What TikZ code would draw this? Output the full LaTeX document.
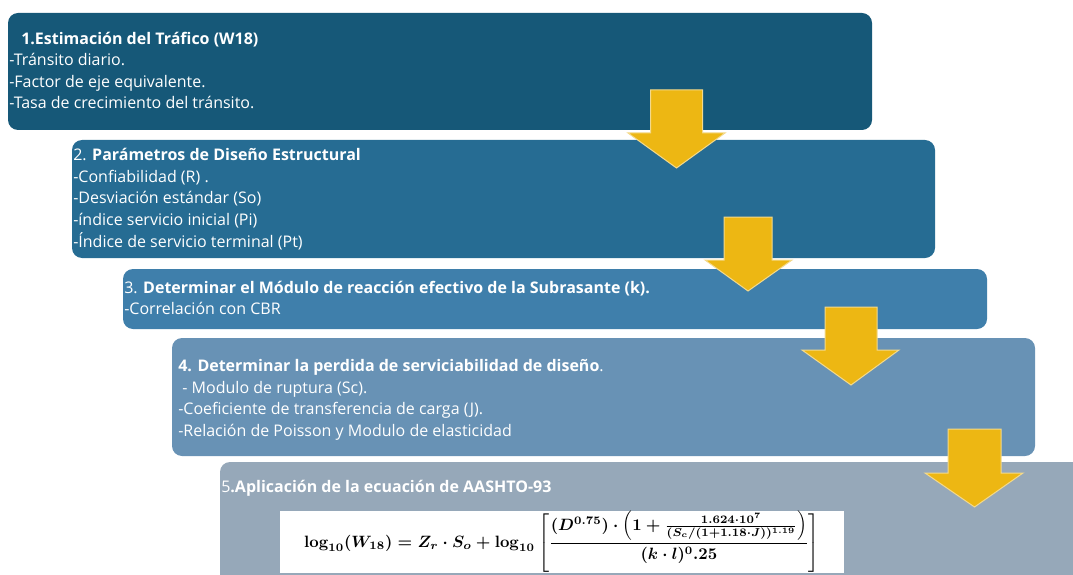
\documentclass[tikz,border=0pt]{standalone}
\usepackage{amsmath}
\usepackage{amssymb}
\usepackage[no-math]{fontspec}
\setmainfont{Open Sans}
\usepackage{tikz}

\definecolor{caja1}{HTML}{165878}
\definecolor{caja2}{HTML}{266C93}
\definecolor{caja3}{HTML}{3F7FAB}
\definecolor{caja4}{HTML}{6892B5}
\definecolor{caja5}{HTML}{96A8B9}
\definecolor{amarillo}{HTML}{EDB713}
\definecolor{bordeamarillo}{HTML}{F3D98C}

\begin{document}
\begin{tikzpicture}[x=0.75pt,y=0.75pt,yscale=-1,xscale=1,
  caja/.style={rounded corners=7.5pt},
  flecha/.style={fill=amarillo, draw=bordeamarillo, line width=0.75},
  texto/.style={anchor=west, inner sep=0.75pt, align=left, text=white, font=\fontsize{12}{16.2}\selectfont}]
\useasboundingbox (0,0) rectangle (1073,574);
\clip (0,0) rectangle (1073,574);

%Shape: Rounded Rect [paso 1]
\fill [caja1, caja] (8,13) rectangle (872,130) ;
%Shape: Rounded Rect [paso 2]
\fill [caja2, caja] (72,140) rectangle (935,258) ;
%Shape: Rounded Rect [paso 3]
\fill [caja3, caja] (123,269) rectangle (987,329) ;
%Shape: Rounded Rect [paso 4]
\fill [caja4, caja] (172,338) rectangle (1035,456) ;
%Shape: Rounded Rect [paso 5]
\fill [caja5, caja] (220,462) rectangle (1090,590) ;

%Shape: Rectangle [ecuacion]
\draw (562,542) node [fill=white, minimum width=423pt, minimum height=45pt, inner sep=0pt] (ec) {\scalebox{1.23}{\boldmath$\displaystyle \log_{10}(W_{18}) = Z_r \cdot S_o + \log_{10}\left[\frac{(D^{0.75})\cdot\left(1+\frac{1.624\cdot 10^7}{(S_c/(1+1.18\cdot J))^{1.19}}\right)}{(k\cdot l)^0.25}\right]$}};

%Shape: Down Arrow [1-2]
\draw [flecha] (650.5,90) -- (702.5,90) -- (702.5,133) -- (725,133) -- (676.5,168) -- (628,133) -- (650.5,133) -- cycle ;
%Shape: Down Arrow [2-3]
\draw [flecha] (724,217) -- (772,217) -- (772,260) -- (792,260) -- (748,291) -- (705,260) -- (724,260) -- cycle ;
%Shape: Down Arrow [3-4]
\draw [flecha] (825,307) -- (877,307) -- (877,350) -- (899,350) -- (851,385) -- (802,350) -- (825,350) -- cycle ;
%Shape: Down Arrow [4-5]
\draw [flecha] (948,429) -- (1001,429) -- (1001,473) -- (1023,473) -- (974.5,507) -- (925,473) -- (948,473) -- cycle ;

% Text Node
\draw (8,70.5) node [texto] (t1) {\hspace*{9pt}\textbf{1.Estimación del Tráfico (W18)}\\-Tránsito diario.\\-Factor de eje equivalente.\\-Tasa de crecimiento del tránsito.};
% Text Node
\draw (72,199) node [texto] (t2) {2. \textbf{Parámetros de Diseño Estructural}\\-Confiabilidad (R) .\\-Desviación estándar (So)\\-índice servicio inicial (Pi)\\-Índice de servicio terminal (Pt)};
% Text Node
\draw (123,298) node [texto] (t3) {3. \textbf{Determinar el Módulo de reacción efectivo de la Subrasante (k).}\\-Correlación con CBR};
% Text Node
\draw (177,400) node [texto] (t4) {\textbf{4. Determinar la perdida de serviciabilidad de diseño}.\\\ - Modulo de ruptura (Sc).\\-Coeficiente de transferencia de carga (J).\\-Relación de Poisson y Modulo de elasticidad};
% Text Node
\draw (220,488) node [texto] (t5) {5\textbf{.Aplicación de la ecuación de AASHTO-93}};

\end{tikzpicture}
\end{document}
